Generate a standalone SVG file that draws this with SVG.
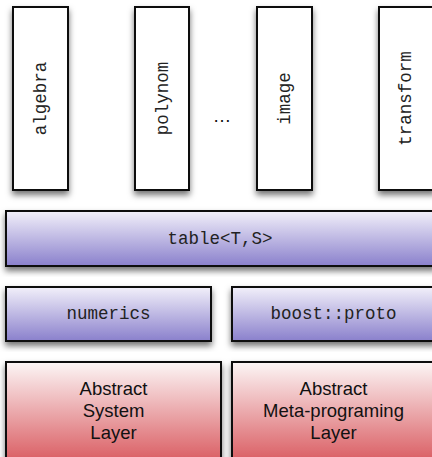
<svg xmlns="http://www.w3.org/2000/svg" width="432" height="457" viewBox="0 0 432 457">
  <defs>
    <linearGradient id="lav" x1="0" y1="0" x2="0" y2="1">
      <stop offset="0" stop-color="#f2f0fa"/>
      <stop offset="1" stop-color="#8a80cc"/>
    </linearGradient>
    <linearGradient id="red" x1="0" y1="0" x2="0" y2="1">
      <stop offset="0" stop-color="#fcf6f6"/>
      <stop offset="1" stop-color="#d8545a"/>
    </linearGradient>
    <filter id="shadow" x="-20%" y="-20%" width="140%" height="140%">
      <feDropShadow dx="0" dy="4" stdDeviation="3" flood-color="#000" flood-opacity="0.55"/>
    </filter>
  </defs>
  <style>
    .box { stroke: #111; stroke-width: 2; filter: url(#shadow); }
    .mod { fill: #fff; }
    .mid { fill: url(#lav); }
    .base { fill: url(#red); }
    .mono { font-family: "Liberation Mono", "Courier New", monospace; font-size: 17.5px; fill: #222; text-anchor: middle; }
    .sans { font-family: "Liberation Sans", Arial, sans-serif; font-size: 18.5px; fill: #111; text-anchor: middle; }
  </style>

  <rect width="432" height="457" fill="#fff"/>

  <!-- top row: modules -->
  <g id="algebra">
    <rect class="box mod" x="13" y="7" width="55" height="183"/>
    <text class="mono" transform="translate(46,98.5) rotate(-90)">algebra</text>
  </g>
  <g id="polynom">
    <rect class="box mod" x="135" y="7" width="54" height="183"/>
    <text class="mono" transform="translate(167.5,98.5) rotate(-90)">polynom</text>
  </g>
  <g id="ellipsis">
    <text class="sans" x="222" y="122" font-size="20">…</text>
  </g>
  <g id="image">
    <rect class="box mod" x="257" y="7" width="55" height="183"/>
    <text class="mono" transform="translate(290,98.5) rotate(-90)">image</text>
  </g>
  <g id="transform">
    <rect class="box mod" x="379" y="7" width="56" height="183"/>
    <text class="mono" transform="translate(411,98.5) rotate(-90)">transform</text>
  </g>

  <!-- container layer -->
  <g id="table">
    <rect class="box mid" x="6" y="211" width="430" height="55"/>
    <text class="mono" x="220" y="243.5">table&lt;T,S&gt;</text>
  </g>

  <!-- support libraries -->
  <g id="numerics">
    <rect class="box mid" x="6" y="287" width="205" height="54"/>
    <text class="mono" x="108.5" y="318.5">numerics</text>
  </g>
  <g id="boost-proto">
    <rect class="box mid" x="232" y="287" width="204" height="54"/>
    <text class="mono" x="333.5" y="318.5">boost::proto</text>
  </g>

  <!-- abstraction layers -->
  <g id="system-layer">
    <rect class="box base" x="6" y="362" width="215" height="105"/>
    <text class="sans" x="113.5" y="395">Abstract</text>
    <text class="sans" x="113.5" y="417">System</text>
    <text class="sans" x="113.5" y="439">Layer</text>
  </g>
  <g id="metaprog-layer">
    <rect class="box base" x="232" y="362" width="204" height="105"/>
    <text class="sans" x="333.5" y="395">Abstract</text>
    <text class="sans" x="333.5" y="417">Meta-programing</text>
    <text class="sans" x="333.5" y="439">Layer</text>
  </g>

  <g id="connectors"/>
</svg>
